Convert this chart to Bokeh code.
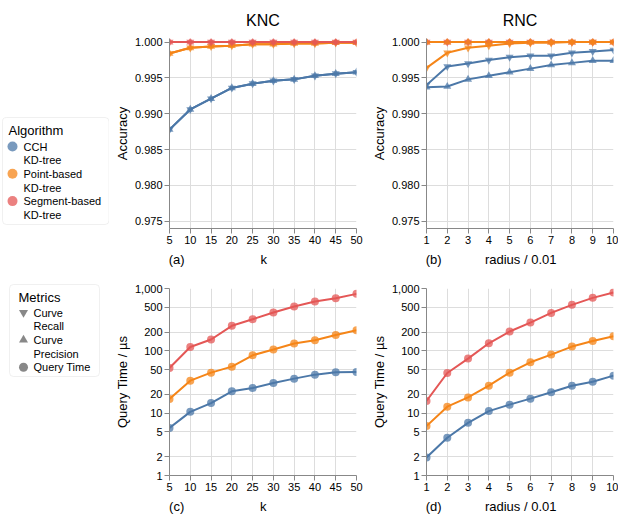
from bokeh.plotting import figure
from bokeh.layouts import row, column
from bokeh.models import Range1d, FixedTicker, NumeralTickFormatter, BoxAnnotation
from bokeh.embed import file_html
from bokeh.resources import INLINE
from bokeh.core.properties import value

FONT = "Liberation Sans"
BLUE, ORANGE, RED = "#4c78a8", "#f58518", "#e45756"
GRAY = "#888888"
NB = "\u00a0"

# ---------------- data ----------------
k_values = [5, 10, 15, 20, 25, 30, 35, 40, 45, 50]
radius_values = [1, 2, 3, 4, 5, 6, 7, 8, 9, 10]

knc_cch_recall = [0.9878, 0.9906, 0.9921, 0.9936, 0.9942, 0.9946, 0.9948, 0.9953, 0.9956, 0.9958]
knc_cch_precision = [0.9878, 0.9906, 0.9921, 0.9936, 0.9942, 0.9946, 0.9948, 0.9953, 0.9956, 0.9958]
knc_point_recall = [0.9984, 0.9992, 0.9994, 0.9995, 0.9997, 0.9997, 0.9998, 0.9998, 0.9999, 0.9999]
knc_point_precision = [0.9984, 0.9992, 0.9994, 0.9995, 0.9997, 0.9997, 0.9998, 0.9998, 0.9999, 0.9999]
knc_segment_recall = [1.0, 1.0, 1.0, 1.0, 1.0, 1.0, 1.0, 1.0, 1.0, 1.0]
knc_segment_precision = [1.0, 1.0, 1.0, 1.0, 1.0, 1.0, 1.0, 1.0, 1.0, 1.0]

rnc_cch_recall = [0.9940, 0.9966, 0.9970, 0.9975, 0.9979, 0.9981, 0.9981, 0.9985, 0.9987, 0.9989]
rnc_cch_precision = [0.9937, 0.9938, 0.9948, 0.9953, 0.9958, 0.9963, 0.9968, 0.9971, 0.9974, 0.9974]
rnc_point_recall = [0.9964, 0.9985, 0.9992, 0.9995, 0.9998, 0.9999, 0.9999, 1.0, 1.0, 1.0]
rnc_point_precision = [1.0, 1.0, 1.0, 1.0, 1.0, 1.0, 1.0, 1.0, 1.0, 1.0]
rnc_segment_recall = [1.0, 1.0, 1.0, 1.0, 1.0, 1.0, 1.0, 1.0, 1.0, 1.0]
rnc_segment_precision = [1.0, 1.0, 1.0, 1.0, 1.0, 1.0, 1.0, 1.0, 1.0, 1.0]

knc_cch_time = [5.8, 10.5, 14.5, 22.4, 25.3, 30.5, 35.8, 41.5, 45.2, 45.8]
knc_point_time = [16.9, 33.2, 44.7, 55.8, 84.9, 105, 131, 148, 180, 214]
knc_segment_time = [53, 115, 152, 252, 322, 412, 514, 619, 700, 820]

rnc_cch_time = [1.95, 4.03, 7.0, 10.8, 13.7, 17.1, 21.6, 27.6, 32, 40]
rnc_point_time = [6.2, 12.7, 17.9, 27.6, 44.7, 65.5, 87, 117, 144, 171]
rnc_segment_time = [15.7, 44.1, 75, 132, 204, 284, 406, 547, 708, 863]

accuracy_ticks = [0.975, 0.980, 0.985, 0.990, 0.995, 1.000]
time_ticks = [1, 2, 5, 10, 20, 50, 100, 200, 500, 1000]

algorithm_labels = [["CCH", "KD-tree"], ["Point-based", "KD-tree"], ["Segment-based", "KD-tree"]]
algorithm_colors = [BLUE, ORANGE, RED]
metric_labels = [["Curve", "Recall"], ["Curve", "Precision"], ["Query Time"]]
metric_markers = ["inverted_triangle", "triangle", "circle"]

# panel letter + axis title on one line (letter at the frame's left edge)
knc_xlabel = "(a)" + NB * 21 + "k" + NB * 25
rnc_xlabel = "(b)" + NB * 12 + "radius / 0.01" + NB * 16
knc_time_xlabel = "(c)" + NB * 21 + "k" + NB * 25
rnc_time_xlabel = "(d)" + NB * 12 + "radius / 0.01" + NB * 16


def style(p, xlabel, ylabel, xticks, yticks, yfmt):
    p.outline_line_color = None
    p.background_fill_color = "white"
    p.border_fill_color = "white"
    p.xaxis.ticker = FixedTicker(ticks=xticks, minor_ticks=[])
    p.yaxis.ticker = FixedTicker(ticks=yticks, minor_ticks=[])
    p.xgrid.ticker = FixedTicker(ticks=xticks, minor_ticks=[])
    p.ygrid.ticker = FixedTicker(ticks=yticks, minor_ticks=[])
    p.yaxis.formatter = NumeralTickFormatter(format=yfmt)
    for ax in (p.xaxis, p.yaxis):
        ax.axis_line_color = GRAY
        ax.major_tick_line_color = GRAY
        ax.minor_tick_line_color = None
        ax.major_tick_out = 5
        ax.major_tick_in = 0
        ax.major_label_text_font = FONT
        ax.major_label_text_font_size = "11px"
        ax.major_label_text_color = "#000000"
        ax.axis_label_text_font = FONT
        ax.axis_label_text_font_size = "13px"
        ax.axis_label_text_font_style = "normal"
        ax.axis_label_text_color = "#000000"
    p.xaxis.axis_label = xlabel
    p.yaxis.axis_label = ylabel
    p.xaxis.major_label_standoff = 2
    p.xaxis.axis_label_standoff = 5
    p.yaxis.major_label_standoff = 2
    p.yaxis.axis_label_standoff = 2
    p.xgrid.grid_line_color = "#dddddd"
    p.ygrid.grid_line_color = "#dddddd"


def accuracy_fig(x, series, title, xlabel, width, bl, br):
    p = figure(width=width, height=278, output_backend="svg", toolbar_location=None,
               x_range=Range1d(x[0], x[-1]), y_range=Range1d(0.974, 1.0005),
               min_border_left=bl, min_border_right=br, min_border_top=38, min_border_bottom=50)
    style(p, xlabel, "Accuracy", x, accuracy_ticks, "0.000")
    p.title.text = title
    p.title.align = "center"
    p.title.text_font = FONT
    p.title.text_font_size = "16px"
    p.title.text_font_style = "normal"
    p.title.text_color = "#000000"
    p.title.standoff = 19
    for color, rec, prec in series:
        p.line(x, rec, line_color=color, line_width=2)
        p.line(x, prec, line_color=color, line_width=2)
    for color, rec, prec in series:
        p.scatter(x, rec, marker="inverted_triangle", size=8, fill_color=color, fill_alpha=0.75, line_color=None)
        p.scatter(x, prec, marker="triangle", size=8, fill_color=color, fill_alpha=0.75, line_color=None)
    return p


def time_fig(x, series, xlabel, width, bl, br):
    p = figure(width=width, height=240, output_backend="svg", toolbar_location=None,
               x_range=Range1d(x[0], x[-1]), y_range=Range1d(1, 1000), y_axis_type="log",
               min_border_left=bl, min_border_right=br, min_border_top=10, min_border_bottom=43)
    style(p, xlabel, "Query Time / µs", x, time_ticks, "0,0")
    for color, t in series:
        p.line(x, t, line_color=color, line_width=2)
    for color, t in series:
        p.scatter(x, t, marker="circle", size=8, fill_color=color, fill_alpha=0.75, line_color=None)
    return p


p1 = accuracy_fig(k_values,
                  [(BLUE, knc_cch_recall, knc_cch_precision),
                   (ORANGE, knc_point_recall, knc_point_precision),
                   (RED, knc_segment_recall, knc_segment_precision)],
                  "KNC", knc_xlabel, 257, 60, 10)
p2 = accuracy_fig(radius_values,
                  [(BLUE, rnc_cch_recall, rnc_cch_precision),
                   (RED, rnc_segment_recall, rnc_segment_precision),
                   (ORANGE, rnc_point_recall, rnc_point_precision)],
                  "RNC", rnc_xlabel, 252, 60, 5)
p3 = time_fig(k_values, [(BLUE, knc_cch_time), (ORANGE, knc_point_time), (RED, knc_segment_time)],
              knc_time_xlabel, 257, 60, 10)
p4 = time_fig(radius_values, [(BLUE, rnc_cch_time), (ORANGE, rnc_point_time), (RED, rnc_segment_time)],
              rnc_time_xlabel, 252, 60, 5)

# ---------------- legend panel ----------------
LW, LH = 109, 518
lg = figure(width=LW, height=LH, output_backend="svg", toolbar_location=None,
            x_range=Range1d(0, LW), y_range=Range1d(LH, 0),
            min_border=0, min_border_left=0, min_border_right=0, min_border_top=0, min_border_bottom=0)
lg.axis.visible = False
lg.grid.visible = False
lg.outline_line_color = None

lg.add_layout(BoxAnnotation(left=2, right=108.5, top=117, bottom=224, fill_color=None,
                            line_color="#cccccc", line_width=1, border_radius=4))
lg.text([8], [130], text=["Algorithm"], text_font=value(FONT), text_font_size="13px",
        text_baseline="middle", text_color="#000000")
ys = []
for i, lab in enumerate(algorithm_labels):
    y0 = 146 + 27.3 * i
    ys.append(y0)
    lg.text([23] * len(lab), [y0 + 13.7 * j for j in range(len(lab))], text=lab, text_font=value(FONT),
            text_font_size="11px", text_baseline="middle", text_color="#000000")
lg.scatter([12] * 3, ys, marker="circle", size=10, fill_color=algorithm_colors, fill_alpha=0.75, line_color=None)

lg.add_layout(BoxAnnotation(left=9, right=99, top=284, bottom=376, fill_color=None,
                            line_color="#cccccc", line_width=1, border_radius=4))
lg.text([18], [297], text=["Metrics"], text_font=value(FONT), text_font_size="13px",
        text_baseline="middle", text_color="#000000")
y0 = 312
for lab, mk in zip(metric_labels, metric_markers):
    lg.text([33] * len(lab), [y0 + 13.7 * j for j in range(len(lab))], text=lab, text_font=value(FONT),
            text_font_size="11px", text_baseline="middle", text_color="#000000")
    lg.scatter([23], [y0], marker=mk, size=9, fill_color=GRAY, line_color=None)
    y0 += 13.7 * len(lab)

layout = row(lg, column(row(p1, p2), row(p3, p4)))
open("out.html", "w").write(file_html(layout, INLINE))
